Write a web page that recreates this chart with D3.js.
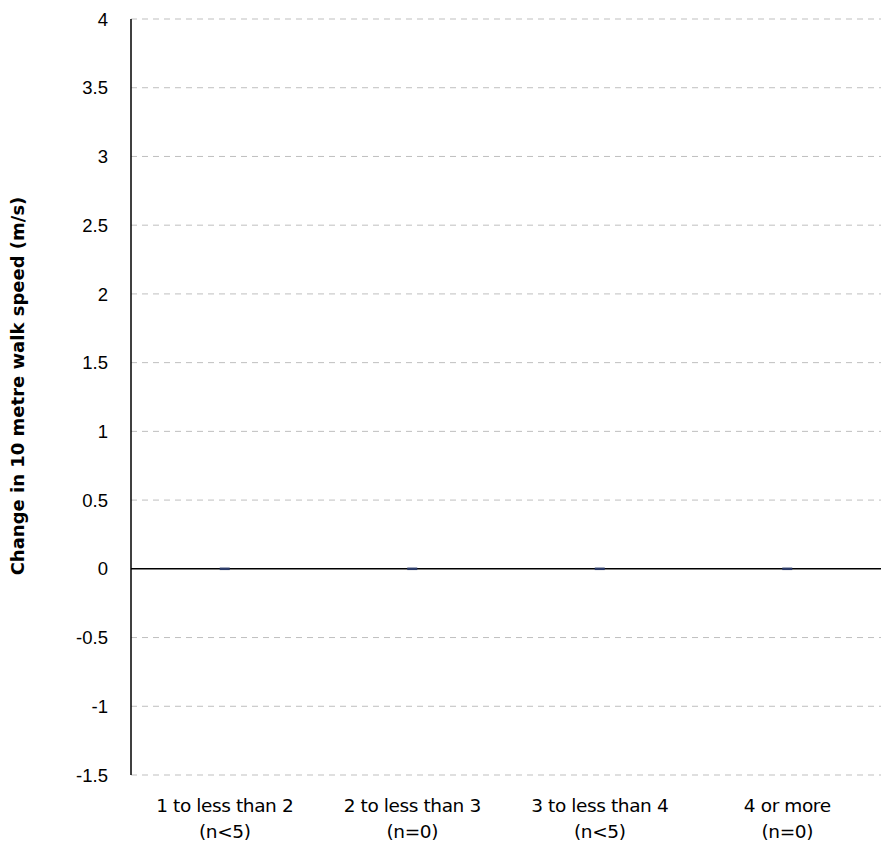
<!DOCTYPE html>
<html><head><meta charset="utf-8">
<script src="https://cdn.jsdelivr.net/npm/d3@7"></script>
<style>body{margin:0;background:#fff}</style>
</head><body>
<svg id="c" width="885" height="851"></svg>
<script>
const categories = ["1 to less than 2", "2 to less than 3", "3 to less than 4", "4 or more"];
const nLabels = ["(n<5)", "(n=0)", "(n<5)", "(n=0)"];
const values = [0, 0, 0, 0];
const yTicks = [-1.5, -1, -0.5, 0, 0.5, 1, 1.5, 2, 2.5, 3, 3.5, 4];
const yTitle = "Change in 10 metre walk speed (m/s)";

const svg = d3.select("#c");
const L = 131, R = 881, T = 19, B = 775;
const x = d3.scaleBand().domain(categories).range([L, R]);
const y = d3.scaleLinear().domain([-1.5, 4]).range([B, T]);

svg.append("g").selectAll("line").data(yTicks.filter(d => d !== 0)).join("line")
  .attr("x1", L).attr("x2", R).attr("y1", d => y(d)).attr("y2", d => y(d))
  .attr("stroke", "#bfbfbf").attr("stroke-width", 1).attr("stroke-dasharray", "6,5");

svg.append("g").selectAll("text").data(yTicks).join("text")
  .attr("x", L - 23).attr("y", d => y(d)).attr("dy", "0.36em")
  .attr("text-anchor", "end").attr("font-family", "Liberation Sans, Arial, sans-serif")
  .attr("font-size", 18.5).attr("fill", "#000").text(d => d);

svg.append("line").attr("x1", L).attr("x2", R).attr("y1", y(0)).attr("y2", y(0))
  .attr("stroke", "#000").attr("stroke-width", 1.5);

svg.append("g").selectAll("rect").data(values).join("rect")
  .attr("x", (d, i) => x(categories[i]) + x.bandwidth() / 2 - 5)
  .attr("width", 10)
  .attr("y", d => Math.min(y(d), y(0)) - 1.25)
  .attr("height", d => Math.abs(y(d) - y(0)) + 2.5)
  .attr("fill", "#2b3a67");

svg.append("line").attr("x1", L).attr("x2", L).attr("y1", T).attr("y2", B)
  .attr("stroke", "#000").attr("stroke-width", 1.5);

const cat = svg.append("g").selectAll("text").data(categories).join("text")
  .attr("text-anchor", "middle").attr("font-family", "DejaVu Sans, sans-serif")
  .attr("font-size", 18.5).attr("fill", "#000").attr("letter-spacing", -0.4);
cat.append("tspan").attr("x", d => x(d) + x.bandwidth() / 2).attr("y", 812).text(d => d);
cat.append("tspan").attr("x", d => x(d) + x.bandwidth() / 2).attr("y", 838).text((d, i) => nLabels[i]);

svg.append("text").attr("transform", `translate(24,386) rotate(-90)`)
  .attr("text-anchor", "middle").attr("font-family", "DejaVu Sans, sans-serif")
  .attr("font-weight", "bold").attr("font-size", 18).attr("fill", "#000").text(yTitle);
</script>
</body></html>
